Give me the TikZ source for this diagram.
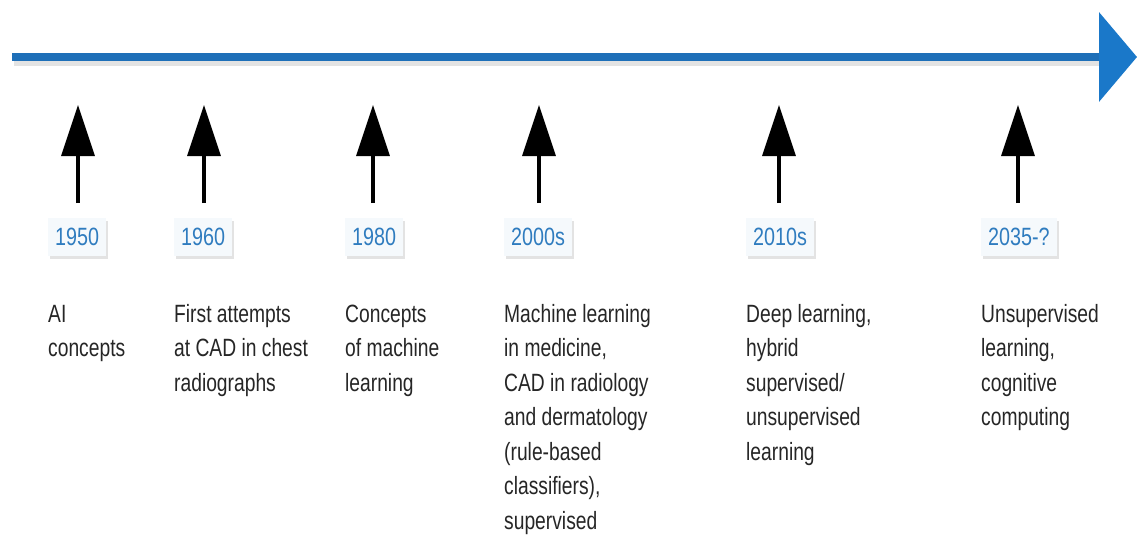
\documentclass[tikz,border=0pt]{standalone}
\usepackage{fontspec}
\setmainfont{Liberation Sans}
\newfontfamily\condfont[FakeStretch=0.77]{Liberation Sans}
\newfontfamily\yearfont[FakeStretch=0.79]{Liberation Sans}
\usetikzlibrary{arrows.meta,shadows}
\definecolor{tlblue}{HTML}{1E6FB8}
\definecolor{headblue}{HTML}{1A78C9}
\definecolor{yearblue}{HTML}{2F7CBF}
\definecolor{boxfill}{HTML}{F5F9FC}
\definecolor{bodygray}{HTML}{262626}
\begin{document}
\begin{tikzpicture}[x=1pt,y=-1pt,
  timeline/.style={draw=tlblue, line width=8.5pt, -{Triangle[width=88pt,length=38pt,color=headblue]}},
  tlshadow/.style={draw=gray!22, line width=5pt},
  yearbox/.style={font=\yearfont\fontsize{25}{28}\selectfont, text=yearblue, fill=boxfill,
    inner xsep=7pt, inner ysep=10pt, anchor=west,
    drop shadow={shadow xshift=2pt,shadow yshift=-3pt,opacity=0.22,fill=gray}},
  desc/.style={font=\condfont\fontsize{25}{34.5}\selectfont, text=bodygray, align=left,
    anchor=base west, inner sep=0pt},
  pointer/.style={draw=black, line width=3.5pt, -{Triangle[width=33pt,length=51pt]}}
]
\useasboundingbox (0,0) rectangle (1137,543);

% timeline
\coordinate (tlL) at (12,57);
\coordinate (tlR) at (1137,57);
\coordinate (shL) at (14,64);
\coordinate (shR) at (1099,64);
\draw[tlshadow] (shL) -- (shR);
\draw[timeline] (tlL) -- (tlR);

% year boxes
\node[yearbox] (y1) at (48,237) {1950};
\node[yearbox] (y2) at (174,237) {1960};
\node[yearbox] (y3) at (345,237) {1980};
\node[yearbox] (y4) at (504,237) {2000s};
\node[yearbox] (y5) at (746,237) {2010s};
\node[yearbox] (y6) at (981,237) {2035-?};

% pointer arrows
\foreach \i/\x in {1/78,2/204,3/373,4/539,5/779,6/1018}{
  \coordinate (b\i) at (\x,203);
  \coordinate (t\i) at (\x,105);
  \draw[pointer] (b\i) -- (t\i);
}

% descriptions (anchor = baseline of last line; first baseline at y=322, step 34.5)
\node[desc] (d1) at (48,356.5) {AI\\concepts};
\node[desc] (d2) at (174,391) {First attempts\\at CAD in chest\\radiographs};
\node[desc] (d3) at (345,391) {Concepts\\of machine\\learning};
\node[desc] (d4) at (504,529) {Machine learning\\in medicine,\\CAD in radiology\\and dermatology\\(rule-based\\classifiers),\\supervised};
\node[desc] (d5) at (746,460) {Deep learning,\\hybrid\\supervised/\\unsupervised\\learning};
\node[desc] (d6) at (981,425.5) {Unsupervised\\learning,\\cognitive\\computing};
\end{tikzpicture}
\end{document}
